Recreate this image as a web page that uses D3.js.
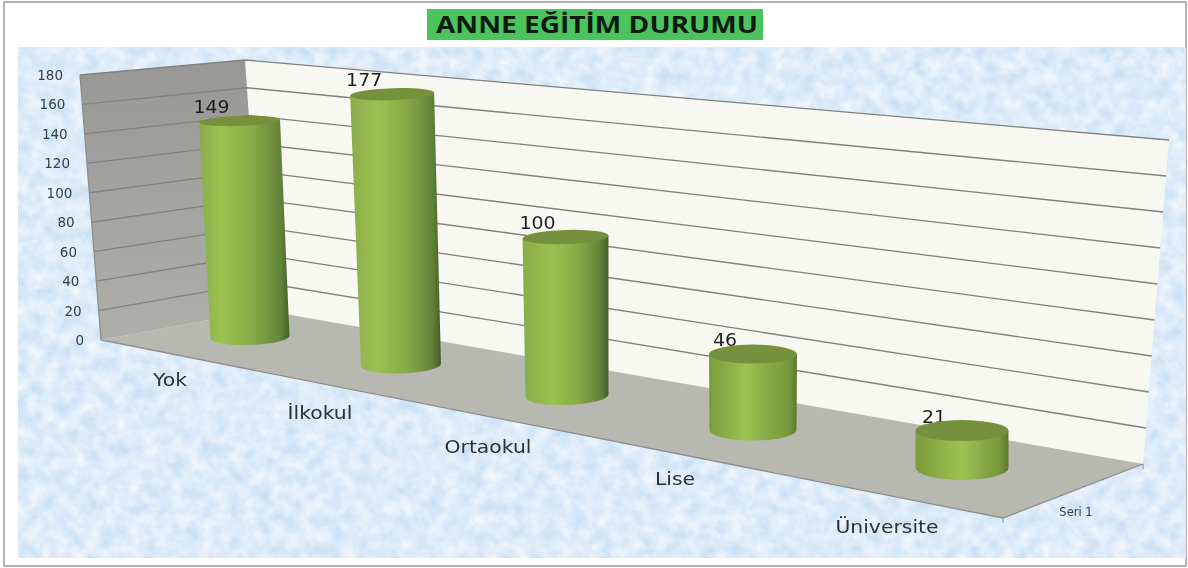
<!DOCTYPE html>
<html>
<head>
<meta charset="utf-8">
<style>
  html, body { margin: 0; padding: 0; background: #fff; overflow: hidden; }
  svg { display: block; }
</style>
<script src="https://cdn.jsdelivr.net/npm/d3@7"></script>
</head>
<body>
<script>
const width = 1188;
const height = 568;

// chart data
const titleText = "ANNE EĞİTİM DURUMU";
const categories = ["Yok", "İlkokul", "Ortaokul", "Lise", "Üniversite"];
const values = [149, 177, 100, 46, 21];
const seriesName = "Seri 1";
const valueTicks = [0, 20, 40, 60, 80, 100, 120, 140, 160, 180];

const svg = d3.select("body").append("svg")
    .attr("width", width)
    .attr("height", height);
const defs = svg.append("defs");

// paper texture for the background
const paper = defs.append("filter").attr("id", "paper")
    .attr("x", 0).attr("y", 0).attr("width", 1).attr("height", 1)
    .attr("color-interpolation-filters", "sRGB");
paper.append("feTurbulence")
    .attr("type", "fractalNoise")
    .attr("baseFrequency", 0.07)
    .attr("numOctaves", 5)
    .attr("seed", 7);
paper.append("feColorMatrix")
    .attr("values", "0 0 0 0 1  0 0 0 0 1  0 0 0 0 1  1.1 0 0 0 -0.2");

defs.append("filter").attr("id", "soft")
    .append("feGaussianBlur").attr("stdDeviation", 0.45);

const sideWall = defs.append("linearGradient").attr("id", "sideWall")
    .attr("x1", 0).attr("y1", 0).attr("x2", 0).attr("y2", 1);
sideWall.append("stop").attr("offset", "0%").attr("stop-color", "#979895");
sideWall.append("stop").attr("offset", "100%").attr("stop-color", "#aeafaa");

// page frame and textured area
svg.append("rect").attr("x", 4).attr("y", 2)
    .attr("width", 1182).attr("height", 564)
    .attr("fill", "#fff").attr("stroke", "#b3b3b3").attr("stroke-width", 2);
svg.append("rect").attr("x", 18).attr("y", 47)
    .attr("width", 1168).attr("height", 511)
    .attr("fill", "#cbe0f5");
svg.append("rect").attr("x", 18).attr("y", 47)
    .attr("width", 1168).attr("height", 511)
    .attr("filter", "url(#paper)");

// title
svg.append("rect").attr("x", 427).attr("y", 9)
    .attr("width", 336).attr("height", 31)
    .attr("fill", "#4cc45e");
svg.append("text")
    .attr("x", 597).attr("y", 33)
    .attr("text-anchor", "middle")
    .attr("textLength", 322)
    .attr("lengthAdjust", "spacingAndGlyphs")
    .style("font", "bold 24px 'Open Sans'")
    .style("fill", "#0c1a10")
    .text(titleText);

const chart = svg.append("g").attr("filter", "url(#soft)");

// corners of the 3d box
const frontTop = [80, 75], frontBottom = [101, 340];
const cornerTop = [245, 60], cornerBottom = [262, 310];
const backTop = [1169, 140], backBottom = [1143, 464];
const floorFront = [1003, 518];

const y = d3.scaleLinear().domain([0, 180]).range([0, 1]);
const along = (a, b, v) => [a[0] + (b[0] - a[0]) * y(v), a[1] + (b[1] - a[1]) * y(v)];
const poly = pts => "M" + pts.map(p => p.join(",")).join("L") + "Z";

chart.append("path").attr("d", poly([cornerTop, backTop, backBottom, cornerBottom]))
    .attr("fill", "#f6f8f1");
chart.append("path").attr("d", poly([frontTop, cornerTop, cornerBottom, frontBottom]))
    .attr("fill", "url(#sideWall)");
chart.append("path").attr("d", poly([frontBottom, cornerBottom, backBottom, floorFront]))
    .attr("fill", "#b7b9b1");

// gridlines run along the side wall and then the back wall
const grid = chart.append("g");
grid.selectAll("path")
    .data(valueTicks.slice(1))
    .enter().append("path")
    .attr("d", d => {
        const a = along(frontBottom, frontTop, d);
        const b = along(cornerBottom, cornerTop, d);
        const c = along(backBottom, backTop, d);
        return "M" + a + "L" + b + "L" + c;
    })
    .attr("fill", "none")
    .attr("stroke", "#7e837e")
    .attr("stroke-width", 1.35);

// box edges
chart.append("path")
    .attr("d", "M" + frontTop + "L" + frontBottom + "L" + floorFront + "L" + backBottom)
    .attr("fill", "none").attr("stroke", "#8b8f8b").attr("stroke-width", 1.3);
chart.append("path")
    .attr("d", "M" + floorFront + "l0,5M" + backBottom + "l0,5")
    .attr("stroke", "#8b8f8b").attr("stroke-width", 1);

// value axis labels
chart.append("g").selectAll("text")
    .data(valueTicks)
    .enter().append("text")
    .attr("x", d => along(frontBottom, frontTop, d)[0] - 17)
    .attr("y", d => along(frontBottom, frontTop, d)[1] + 5)
    .attr("text-anchor", "end")
    .style("font", "13.5px 'DejaVu Sans'")
    .style("fill", "#33404a")
    .text(d => d);

// category placement, the floor gets wider towards the viewer
const idx = categories.map((c, i) => i);
const baseX = d3.scaleLinear().domain(idx).range([250, 401, 567, 753, 962]);
const baseY = d3.scaleLinear().domain(idx).range([337, 365, 396, 430, 468]);
const baseRx = d3.scaleLinear().domain(idx).range([39.5, 40, 41.5, 43.5, 46.5]);
const baseRy = d3.scaleLinear().domain(idx).range([8, 8.5, 9, 10.5, 12]);
const topRx = d3.scaleLinear().domain(idx).range([40.5, 42, 43, 44, 46.5]);
const topRy = d3.scaleLinear().domain(idx).range([5, 6, 7, 9.5, 10.5]);
const pxPerUnit = d3.scaleLinear().domain(idx).range([1.45, 1.53, 1.59, 1.65, 1.78]);
const leanPerUnit = d3.scaleLinear().domain(idx).range([-0.07, -0.05, -0.015, 0, 0]);
const tilt = d3.scaleLinear().domain(idx).range([-2, -2, -2, 0, 0]);
const lightAt = d3.scaleLinear().domain(idx).range([25, 30, 35, 42, 50]);
const labelX = d3.scaleLinear().domain(idx).range([170, 320, 488, 675, 887]);
const labelY = d3.scaleLinear().domain(idx).range([386, 419, 453, 485, 533]);

const bars = values.map((v, i) => ({
    i: i,
    value: v,
    bx: baseX(i),
    by: baseY(i),
    tx: baseX(i) + leanPerUnit(i) * v,
    ty: baseY(i) - pxPerUnit(i) * v
}));

// one horizontal gradient per cylinder
bars.forEach(d => {
    const g = defs.append("linearGradient").attr("id", "cyl" + d.i)
        .attr("x1", 0).attr("y1", 0).attr("x2", 1).attr("y2", 0);
    const light = lightAt(d.i);
    g.append("stop").attr("offset", "0%").attr("stop-color", d.i < 3 ? "#8bab4a" : "#7b9b3c");
    g.append("stop").attr("offset", light + "%").attr("stop-color", "#9dc252");
    g.append("stop").attr("offset", (light + 70) / 2 + 12 + "%").attr("stop-color", "#88a947");
    g.append("stop").attr("offset", "90%").attr("stop-color", d.i < 3 ? "#64843a" : "#779839");
    g.append("stop").attr("offset", "100%").attr("stop-color", d.i < 3 ? "#465e2a" : "#5c7930");
});

const bar = chart.append("g").selectAll("g")
    .data(bars)
    .enter().append("g");

// stretch a text a little, the reference labels are wider than any installed font
const stretch = (sel, k) => sel.each(function() {
    d3.select(this)
        .attr("textLength", this.getComputedTextLength() * k)
        .attr("lengthAdjust", "spacingAndGlyphs");
});

// value labels go first, the cylinder tops cover their lower edge
bar.append("text")
    .attr("x", d => d.tx - 28)
    .attr("y", d => d.ty - 8)
    .attr("text-anchor", "middle")
    .style("font", "17.5px 'DejaVu Sans'")
    .style("fill", "#1f1f1f")
    .text(d => d.value)
    .call(stretch, 1.08);

const rad = a => a * Math.PI / 180;
bar.append("path")
    .attr("d", d => {
        const t = rad(tilt(d.i));
        const bdx = baseRx(d.i) * Math.cos(t), bdy = baseRx(d.i) * Math.sin(t);
        const tdx = topRx(d.i) * Math.cos(t), tdy = topRx(d.i) * Math.sin(t);
        return "M" + (d.tx - tdx) + "," + (d.ty - tdy)
            + "L" + (d.bx - bdx) + "," + (d.by - bdy)
            + "A" + baseRx(d.i) + "," + baseRy(d.i) + " " + tilt(d.i) + " 0 0 " + (d.bx + bdx) + "," + (d.by + bdy)
            + "L" + (d.tx + tdx) + "," + (d.ty + tdy) + "Z";
    })
    .attr("fill", d => "url(#cyl" + d.i + ")");

bar.append("ellipse")
    .attr("cx", d => d.tx)
    .attr("cy", d => d.ty)
    .attr("rx", d => topRx(d.i))
    .attr("ry", d => topRy(d.i))
    .attr("transform", d => "rotate(" + tilt(d.i) + " " + d.tx + " " + d.ty + ")")
    .attr("fill", "#75913c");

// category and series labels
chart.append("g").selectAll("text")
    .data(categories)
    .enter().append("text")
    .attr("x", (d, i) => labelX(i))
    .attr("y", (d, i) => labelY(i))
    .attr("text-anchor", "middle")
    .style("font", "18px 'DejaVu Sans'")
    .style("fill", "#2a3138")
    .text(d => d)
    .call(stretch, 1.13);

chart.append("text")
    .attr("x", 1076).attr("y", 516)
    .attr("text-anchor", "middle")
    .style("font", "11.5px 'DejaVu Sans'")
    .style("fill", "#33404a")
    .text(seriesName);
</script>
</body>
</html>
